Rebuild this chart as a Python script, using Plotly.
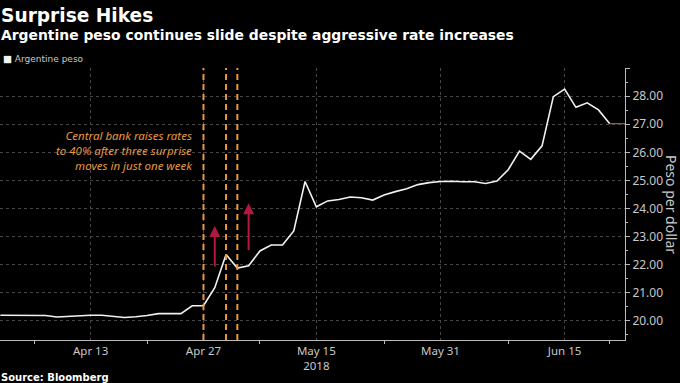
import plotly.graph_objects as go

# ---- data ----
dates = [
    "2018-04-03", "2018-04-04", "2018-04-05", "2018-04-06", "2018-04-09",
    "2018-04-10", "2018-04-11", "2018-04-12", "2018-04-13", "2018-04-16",
    "2018-04-17", "2018-04-18", "2018-04-19", "2018-04-20", "2018-04-23",
    "2018-04-24", "2018-04-25", "2018-04-26", "2018-04-27", "2018-05-02",
    "2018-05-03", "2018-05-04", "2018-05-07", "2018-05-08", "2018-05-09",
    "2018-05-10", "2018-05-11", "2018-05-14", "2018-05-15", "2018-05-16",
    "2018-05-17", "2018-05-18", "2018-05-21", "2018-05-22", "2018-05-23",
    "2018-05-24", "2018-05-28", "2018-05-29", "2018-05-30", "2018-05-31",
    "2018-06-01", "2018-06-04", "2018-06-05", "2018-06-06", "2018-06-07",
    "2018-06-08", "2018-06-11", "2018-06-12", "2018-06-13", "2018-06-14",
    "2018-06-15", "2018-06-18", "2018-06-19", "2018-06-21", "2018-06-22",
]
peso = [
    20.20, 20.20, 20.20, 20.20, 20.19, 20.14, 20.16, 20.20, 20.20, 20.20,
    20.16, 20.12, 20.15, 20.19, 20.26, 20.26, 20.26, 20.54, 20.54, 21.18,
    22.36, 21.88, 21.96, 22.49, 22.70, 22.70, 23.20, 24.96, 24.06, 24.27,
    24.32, 24.41, 24.38, 24.30, 24.48, 24.60, 24.70, 24.85, 24.92, 24.96,
    24.97, 24.95, 24.95, 24.89, 24.98, 25.38, 26.04, 25.75, 26.23, 27.98,
    28.25, 27.60, 27.76, 27.51, 27.02,
]
series_name = "Argentine peso"
tick_dates = ["2018-04-13", "2018-04-27", "2018-05-15", "2018-05-31", "2018-06-15"]
tick_labels = ["Apr 13", "Apr 27", "May 15<br>2018", "May 31", "Jun 15"]
minor_tick_dates = ["2018-04-06", "2018-04-20", "2018-05-08", "2018-05-23", "2018-06-08", "2018-06-22"]
y_ticks = [20, 21, 22, 23, 24, 25, 26, 27, 28, 29]
y_tick_labels = ["20.00", "21.00", "22.00", "23.00", "24.00", "25.00", "26.00", "27.00", "28.00", ""]
hike_dates = ["2018-04-27", "2018-05-03", "2018-05-04"]
arrow_dates = ["2018-05-02", "2018-05-07"]
arrow_from = [21.88, 22.47]
arrow_to = [23.38, 24.19]

# ---- positions via trading-day index ----
xi = list(range(len(dates)))
pos = {d: i for i, d in enumerate(dates)}

GRID = "#474747"
TXT = "#c8c8c8"
ORANGE = "#e8983e"
RED = "#b3183f"

fig = go.Figure()
fig.add_trace(go.Scatter(
    x=xi, y=peso, mode="lines", name=series_name,
    line=dict(color="#f2f2f2", width=1.6), showlegend=False,
))

x_end = len(dates) - 1 + 1.35

# dashed vertical lines for the hikes
for d in hike_dates:
    fig.add_shape(type="line", xref="x", yref="paper", x0=pos[d], x1=pos[d], y0=0, y1=1,
                  line=dict(color=ORANGE, width=2, dash="6px,4px"), layer="above")

# last value marker
fig.add_shape(type="line", xref="x", yref="y", x0=xi[-1], x1=x_end, y0=peso[-1], y1=peso[-1],
              line=dict(color="#a0603a", width=1.2))

# red arrows
for d, a0, a1 in zip(arrow_dates, arrow_from, arrow_to):
    fig.add_annotation(x=pos[d], y=a1, ax=pos[d], ay=a0, xref="x", yref="y", axref="x", ayref="y",
                       showarrow=True, arrowhead=2, arrowsize=1.1, arrowwidth=2, arrowcolor=RED, text="")

# annotation text
fig.add_annotation(
    x=pos[hike_dates[0]], y=26.05, xref="x", yref="y", xanchor="right", yanchor="middle",
    xshift=-8, showarrow=False, align="right",
    text="<i>Central bank raises rates<br>to 40% after three surprise<br>moves in just one week</i>",
    font=dict(family="Noto Sans", size=11.5, color=ORANGE),
)

# legend (swatch + series name)
fig.add_annotation(xref="paper", yref="paper", x=0, y=1, xanchor="left", yanchor="middle",
                   xshift=1, yshift=10, showarrow=False,
                   text='<span style="font-size:9.5px;color:#f2f2f2">■</span> ' + series_name,
                   font=dict(family="DejaVu Sans", size=9, color=TXT))

# titles
fig.add_annotation(xref="paper", yref="paper", x=0, y=1, xanchor="left", yanchor="middle",
                   xshift=-1, yshift=53, showarrow=False,
                   text="<b>Surprise Hikes</b>",
                   font=dict(family="DejaVu Sans", size=18.6, color="#ffffff"))
fig.add_annotation(xref="paper", yref="paper", x=0, y=1, xanchor="left", yanchor="middle",
                   xshift=-1, yshift=33, showarrow=False,
                   text="<b>Argentine peso continues slide despite aggressive rate increases</b>",
                   font=dict(family="DejaVu Sans", size=13.9, color="#ffffff"))
fig.add_annotation(xref="paper", yref="paper", x=0, y=0, xanchor="left", yanchor="middle",
                   xshift=-1, yshift=-37, showarrow=False,
                   text="<b>Source: Bloomberg</b>",
                   font=dict(family="DejaVu Sans", size=10, color="#ffffff"))
# axis title (rotated clockwise)
fig.add_annotation(xref="paper", yref="paper", x=1, y=0.5, xanchor="center", yanchor="middle",
                   xshift=47, showarrow=False, textangle=90,
                   text="Peso per dollar",
                   font=dict(family="Noto Sans", size=14, color=TXT))

fig.update_layout(
    width=680, height=383,
    margin=dict(l=0, r=55, t=68, b=43),
    paper_bgcolor="#000000", plot_bgcolor="#000000",
    font=dict(family="Noto Sans", size=12, color=TXT),
    showlegend=False,
    xaxis=dict(
        range=[-0.03, x_end], tickmode="array",
        tickvals=[pos[d] for d in tick_dates], ticktext=tick_labels,
        ticks="", showline=True, linecolor="#bbbbbb", linewidth=1,
        showgrid=True, gridcolor=GRID, griddash="dot", gridwidth=1,
        zeroline=False, tickfont=dict(size=11.5, color=TXT),
        minor=dict(tickmode="array", tickvals=[pos[d] for d in minor_tick_dates],
                   ticks="outside", ticklen=3, tickcolor="#bbbbbb", showgrid=False),
    ),
    yaxis=dict(
        side="right", range=[19.32, 29.0], tickmode="array",
        tickvals=y_ticks, ticktext=y_tick_labels,
        ticks="outside", ticklen=4, tickcolor="#bbbbbb",
        showline=True, linecolor="#bbbbbb", linewidth=1,
        showgrid=True, gridcolor=GRID, griddash="dot", gridwidth=1,
        zeroline=False, tickfont=dict(size=12, color=TXT),
        minor=dict(dtick=0.5, ticks="outside", ticklen=2, tickcolor="#bbbbbb", showgrid=False),
    ),
)

fig.write_html("out.html", config={"displayModeBar": False},
               post_script="document.body.style.margin='0';")
